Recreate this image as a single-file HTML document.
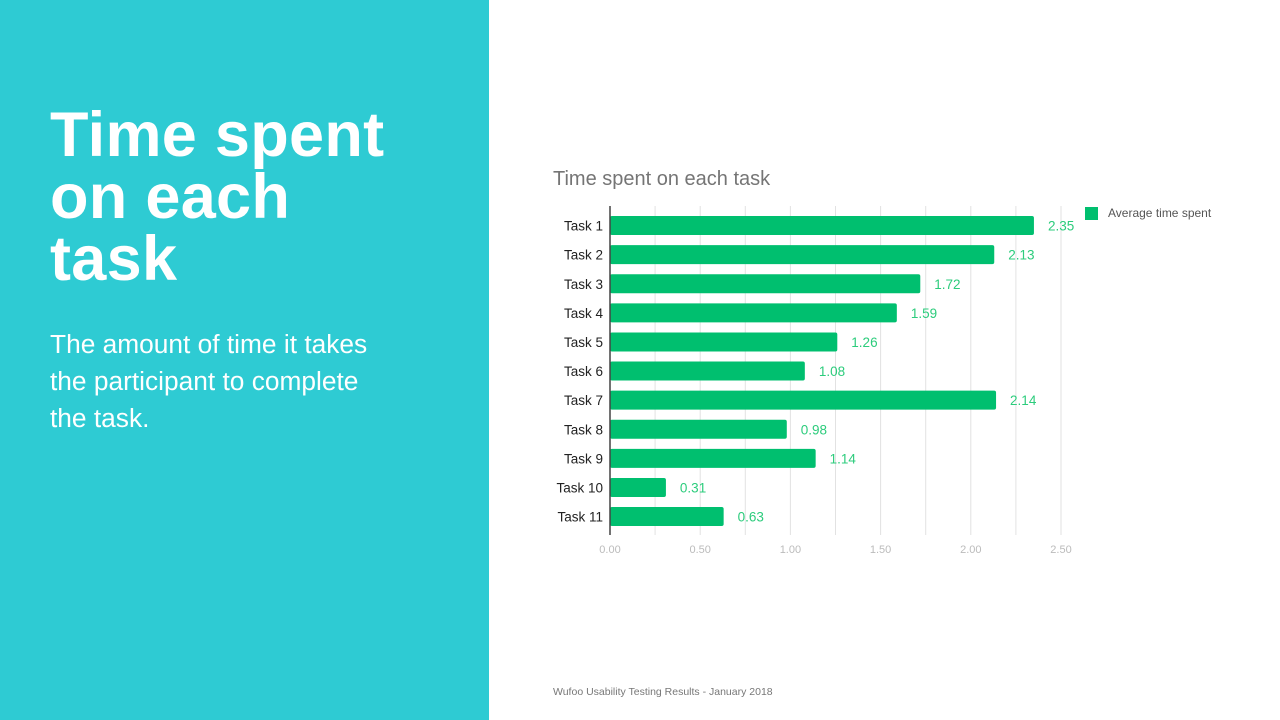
<!DOCTYPE html>
<html><head><meta charset="utf-8"><style>
body{margin:0;width:1280px;height:720px;overflow:hidden;background:#fff;font-family:"Liberation Sans",sans-serif;position:relative}
#left{position:absolute;left:0;top:0;width:489px;height:720px;background:#2ecbd3}
h1{position:absolute;left:50px;top:104px;margin:0;color:#fff;font-size:63px;line-height:62px;font-weight:bold;letter-spacing:0.3px}
#sub{position:absolute;left:50px;top:326px;color:#fff;font-size:26.3px;line-height:37px;width:340px}
#foot{position:absolute;left:553px;top:686px;font-size:10.5px;color:#777}
svg{position:absolute;left:0;top:0}
</style></head><body>
<div id="left">
<h1>Time spent<br>on each<br>task</h1>
<div id="sub">The amount of time it takes the participant to complete the task.</div>
</div>
<svg id="chart" width="1280" height="720">
<text x="553" y="185" font-size="20" fill="#757575" font-family="Liberation Sans">Time spent on each task</text>
<rect x="1085" y="207" width="13" height="13" fill="#00bf6f"/>
<text x="1108" y="217" font-size="12" fill="#555" font-family="Liberation Sans">Average time spent</text>
</svg>
<div id="foot">Wufoo Usability Testing Results - January 2018</div>
<script>
const categories=["Task 1","Task 2","Task 3","Task 4","Task 5","Task 6","Task 7","Task 8","Task 9","Task 10","Task 11"];
const values=[2.35,2.13,1.72,1.59,1.26,1.08,2.14,0.98,1.14,0.31,0.63];
const valueLabels=["2.35","2.13","1.72","1.59","1.26","1.08","2.14","0.98","1.14","0.31","0.63"];
const ticks=[0,0.5,1,1.5,2,2.5];
const tickLabels=["0.00","0.50","1.00","1.50","2.00","2.50"];
const NS="http://www.w3.org/2000/svg";
const svg=document.getElementById('chart');
const x0=610,x1=1061,vmax=2.5,top0=211,step=29.1,bh=19;
const X=v=>x0+(v/vmax)*(x1-x0);
const Y=i=>top0+i*step+step/2;
function mk(t,a){const e=document.createElementNS(NS,t);for(const k in a)e.setAttribute(k,a[k]);svg.appendChild(e);return e;}
for(let v=0.25;v<=vmax+1e-9;v+=0.25){
 const g=mk('line',{x1:X(v),x2:X(v),y1:206,y2:535,stroke:'#e2e2e2','stroke-width':1});
 
 
}
ticks.forEach((t,i)=>{
 const e=mk('text',{x:X(t),y:553,'font-size':11,fill:'#bbb','text-anchor':'middle','font-family':'Liberation Sans'});
 e.textContent=tickLabels[i];
 
 
});
categories.forEach((c,i)=>{
 const y=Y(i);
 const r=mk('rect',{x:x0,y:y-bh/2,width:X(values[i])-x0,height:bh,rx:2,fill:'#00bf6f'});
 
 
 const l=mk('text',{x:603,y:y+5,'font-size':13.5,fill:'#222','text-anchor':'end','font-family':'Liberation Sans'});
 l.textContent=c;
 
 
 const v=mk('text',{x:X(values[i])+14,y:y+5,'font-size':13.5,fill:'#2ccc7c','font-family':'Liberation Sans'});
 v.textContent=valueLabels[i];
 
 
});
const ax=mk('line',{x1:x0,x2:x0,y1:206,y2:535,stroke:'#444','stroke-width':1.5});


</script>
</body></html>
